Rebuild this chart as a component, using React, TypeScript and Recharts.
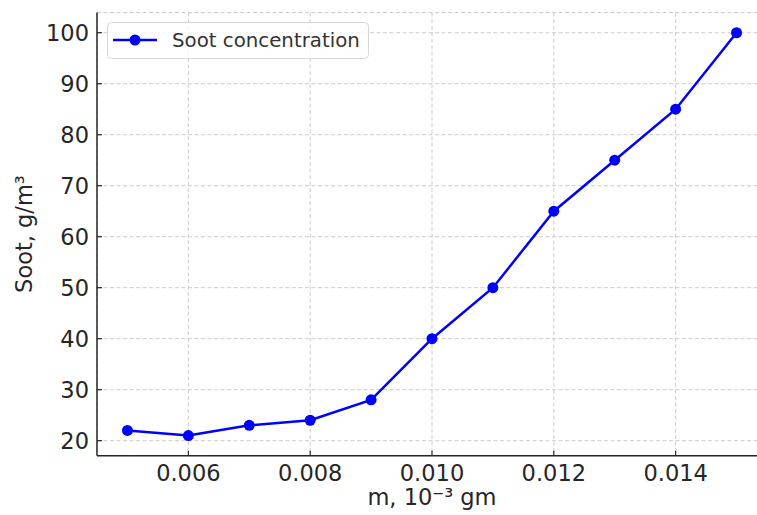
import React from "react";
import { LineChart, Line, XAxis, YAxis, CartesianGrid, Label } from "recharts";

const mValues = [0.005, 0.006, 0.007, 0.008, 0.009, 0.01, 0.011, 0.012, 0.013, 0.014, 0.015];
const sootValues = [22, 21, 23, 24, 28, 40, 50, 65, 75, 85, 100];
const xTicks = [0.006, 0.008, 0.01, 0.012, 0.014];
const yTicks = [20, 30, 40, 50, 60, 70, 80, 90, 100];

const data = mValues.map((m, i) => ({ m, soot: sootValues[i] }));

const FONT = "'DejaVu Sans', sans-serif";
const INK = "#262626";
const BLUE = "#0000ff";

function XTick({ x, y, payload }: any) {
  return (
    <g>
      <line x1={x} x2={x} y1={y} y2={y - 5} stroke={INK} strokeWidth={1.2} />
      <text x={x} y={y + 25.5} textAnchor="middle" fill={INK} fontSize={22.5} fontFamily={FONT}>
        {Number(payload.value).toFixed(3)}
      </text>
    </g>
  );
}

function YTick({ x, y, payload }: any) {
  return (
    <g>
      <line x1={x} x2={x + 5} y1={y} y2={y} stroke={INK} strokeWidth={1.2} />
      <text x={x - 8} y={y + 8} textAnchor="end" fill={INK} fontSize={22.5} fontFamily={FONT}>
        {payload.value}
      </text>
    </g>
  );
}

// legend drawn as an overlay so it doesn't eat plot space
function LegendBox() {
  return (
    <svg width={263} height={38} style={{ display: "block" }}>
      <rect x={0.5} y={0.5} width={261} height={36} rx={4} fill="#fff" fillOpacity={0.8} stroke="#d6d6d6" />
      <line x1={6} x2={50} y1={18} y2={18} stroke={BLUE} strokeWidth={2.5} />
      <circle cx={28} cy={18} r={5.5} fill={BLUE} />
      <text x={65} y={25} fill="#333" fontSize={19.8} fontFamily={FONT}>
        Soot concentration
      </text>
    </svg>
  );
}

export default function App() {
  return (
    <div
      style={{
        position: "fixed",
        left: 0,
        top: 0,
        width: 757,
        height: 515,
        overflow: "hidden",
        background: "#fff",
      }}
    >
      <LineChart width={780} height={515} data={data} margin={{ top: 12.6, right: 13, left: 0, bottom: 0 }}>
        <CartesianGrid stroke="#cccccc" strokeDasharray="4 2.5" strokeWidth={1} />
        <XAxis
          dataKey="m"
          type="number"
          domain={[0.0045, 0.0155]}
          ticks={xTicks}
          allowDataOverflow
          height={59.3}
          tickSize={0}
          tickMargin={0}
          tickLine={false}
          tick={<XTick />}
          axisLine={{ stroke: INK, strokeWidth: 1.5 }}
        >
          <Label
            content={() => (
              <text x={432} y={505} textAnchor="middle" fill={INK} fontSize={22.5} fontFamily={FONT}>
                m, 10⁻³ gm
              </text>
            )}
          />
        </XAxis>
        <YAxis
          type="number"
          domain={[17.05, 103.95]}
          ticks={yTicks}
          allowDataOverflow
          width={97}
          tickSize={0}
          tickMargin={0}
          tickLine={false}
          tick={<YTick />}
          axisLine={{ stroke: INK, strokeWidth: 1.5 }}
        >
          <Label
            content={() => (
              <text
                x={32}
                y={234}
                transform="rotate(-90 32 234)"
                textAnchor="middle"
                fill={INK}
                fontSize={22.5}
                fontFamily={FONT}
              >
                Soot, g/m³
              </text>
            )}
          />
        </YAxis>
        <Line
          dataKey="soot"
          name="Soot concentration"
          type="linear"
          stroke={BLUE}
          strokeWidth={2.5}
          dot={{ r: 5.5, fill: BLUE, stroke: BLUE, strokeWidth: 0 }}
          activeDot={false}
          isAnimationActive={false}
        />
      </LineChart>
      <div style={{ position: "absolute", left: 107, top: 21.5 }}>
        <LegendBox />
      </div>
    </div>
  );
}
